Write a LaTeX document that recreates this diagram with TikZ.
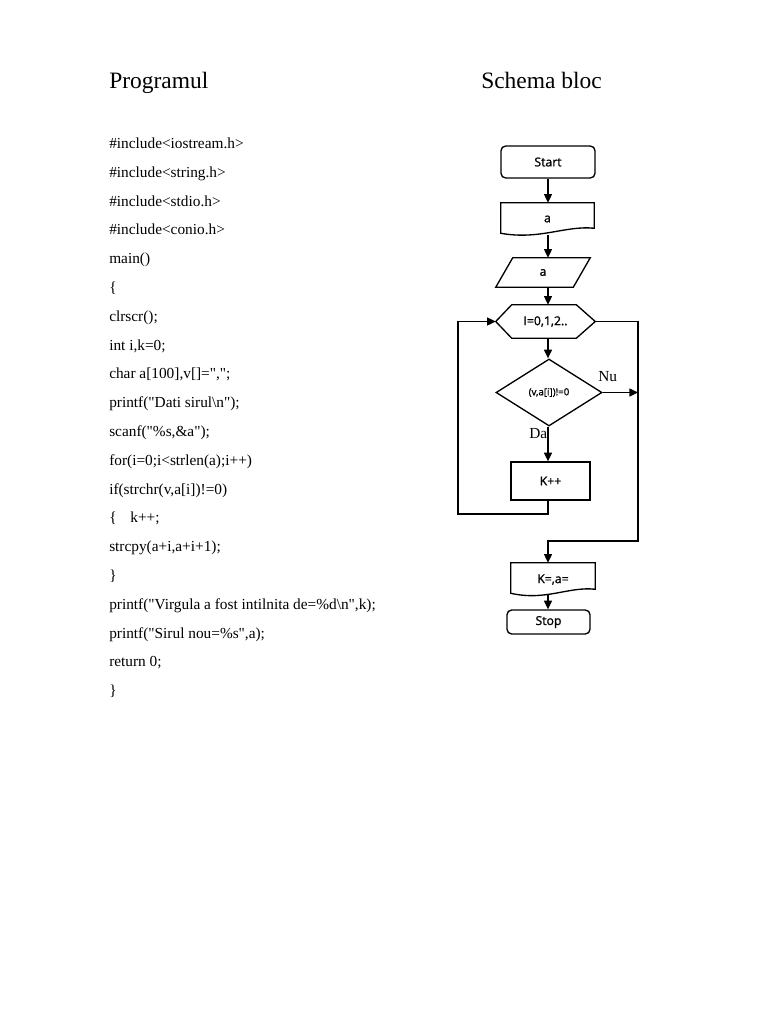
\documentclass[tikz,border=0pt]{standalone}
\usepackage{fontspec}
\setmainfont{Liberation Serif}[Ligatures=TeXOff]
\newfontfamily\fcfont{Open Sans}[FakeBold=1.2]
\usetikzlibrary{arrows.meta,calc,shapes.geometric}
\begin{document}
\begin{tikzpicture}[x=0.75pt,y=-0.75pt,
  ln/.style={line width=1pt},
  arr/.style={ln,-{Triangle[length=6.5pt,width=6pt]}},
  code/.style={anchor=base west,inner sep=0pt,font=\fontsize{11.5}{13}\selectfont},
  ttl/.style={anchor=base west,inner sep=0pt,font=\fontsize{17.6}{20}\selectfont},
  fc/.style={inner sep=0pt,font=\fcfont\fontsize{9.2}{10}\selectfont},
  term/.style={fc,draw,ln,rounded corners=3.5pt},
  procbox/.style={fc,draw,ln},
  plain/.style={fc}
]
\fill[white] (0,0) rectangle (768,1024);
\useasboundingbox (0,0) rectangle (768,1024);

% titles
\node[ttl] (t1) at (109,89) {Programul};
\node[ttl] (t2) at (481,89) {Schema bloc};

% code
\node[code] (c1) at (109,148.5) {\#include<iostream.h>};
\node[code] (c2) at (109,177.3) {\#include<string.h>};
\node[code] (c3) at (109,206.1) {\#include<stdio.h>};
\node[code] (c4) at (109,234.9) {\#include<conio.h>};
\node[code] (c5) at (109,263.7) {main()};
\node[code] (c6) at (109,292.5) {\{};
\node[code] (c7) at (109,321.3) {clrscr();};
\node[code] (c8) at (109,350.1) {int i,k=0;};
\node[code] (c9) at (109,378.9) {char a[100],v[]=",";};
\node[code] (c10) at (109,407.7) {printf("Dati sirul\textbackslash n");};
\node[code] (c11) at (109,436.5) {scanf("\%s,\&a");};
\node[code] (c12) at (109,465.3) {for(i=0;i<strlen(a);i++)};
\node[code] (c13) at (109,494.1) {if(strchr(v,a[i])!=0)};
\node[code] (c14) at (109,522.9) {\{\hspace{0.9em}k++;};
\node[code] (c15) at (109,551.7) {strcpy(a+i,a+i+1);};
\node[code] (c16) at (109,580.5) {\}};
\node[code] (c17) at (109,609.3) {printf("Virgula a fost intilnita de=\%d\textbackslash n",k);};
\node[code] (c18) at (109,638.1) {printf("Sirul nou=\%s",a);};
\node[code] (c19) at (109,666.9) {return 0;};
\node[code] (c20) at (109,695.7) {\}};

% flowchart nodes
\node[term,minimum width=70.5pt,minimum height=24pt] (start) at (548,162) {Start};

\node[plain,minimum width=69.75pt,minimum height=24pt] (doca) at (547.5,219) {a};
\draw[ln] (doca.north west) -- (doca.north east) -- ($(doca.south east)+(0,-7)$)
  .. controls ($(doca.south east)+(-29,-10)$) and ($(doca.south west)+(39,5)$) .. ($(doca.south west)+(0,-2)$) -- cycle;

\node[plain,minimum width=70.5pt,minimum height=21.75pt] (para) at (543,272.5) {a};
\draw[ln] ($(para.north west)+(17,0)$) -- (para.north east) -- ($(para.south east)+(-17,0)$) -- (para.south west) -- cycle;

\node[plain,minimum width=74.25pt,minimum height=24.75pt] (hex) at (545.5,321.5) {I=0,1,2..};
\draw[ln] (hex.west) -- ($(hex.north west)+(16,0)$) -- ($(hex.north east)+(-19,0)$) -- (hex.east)
  -- ($(hex.south east)+(-19,0)$) -- ($(hex.south west)+(16,0)$) -- cycle;

\node[fc,draw,ln,shape=diamond,minimum width=79.5pt,minimum height=50.25pt,font=\fcfont\fontsize{7.3}{8}\selectfont] (dia) at (549,392.5) {(v,a[i])!=0};

\node[procbox,minimum width=59.25pt,minimum height=28.5pt] (kpp) at (550.5,481) {K++};

\node[plain,minimum width=63pt,minimum height=24.75pt] (kout) at (553,579.5) {K=,a=};
\draw[ln] (kout.north west) -- (kout.north east) -- ($(kout.south east)+(0,-7)$)
  .. controls ($(kout.south east)+(-27,-10)$) and ($(kout.south west)+(35,5)$) .. ($(kout.south west)+(0,-3)$) -- cycle;

\node[term,minimum width=62.25pt,minimum height=18pt] (stop) at (548.5,622) {Stop};

% labels
\node[code] (nu) at (598,381) {Nu};
\node[code] (da) at (529,438) {Da};

% helper coordinates
\coordinate (loopL) at (458,514);
\coordinate (rbot) at (638,541);

% connectors
\draw[arr] (start.south) -- (doca.north -| start);
\draw[arr] (doca.south -| start) -- (para.north -| start);
\draw[arr] (para.south -| start) -- (hex.north -| start);
\draw[arr] (hex.south -| start) -- (dia.north -| start);
\draw[arr] (dia.south -| start) -- (kpp.north -| start);
\draw[arr] (kpp.south -| start) |- (loopL) |- (hex.west);
\draw[arr] (hex.east) -| (rbot) -| (kout.north -| start);
\draw[arr] (dia.east) -- (dia.east -| rbot);
\draw[arr] ($(kout.south -| start)+(0,-1)$) -- (stop.north -| start);
\end{tikzpicture}
\end{document}
